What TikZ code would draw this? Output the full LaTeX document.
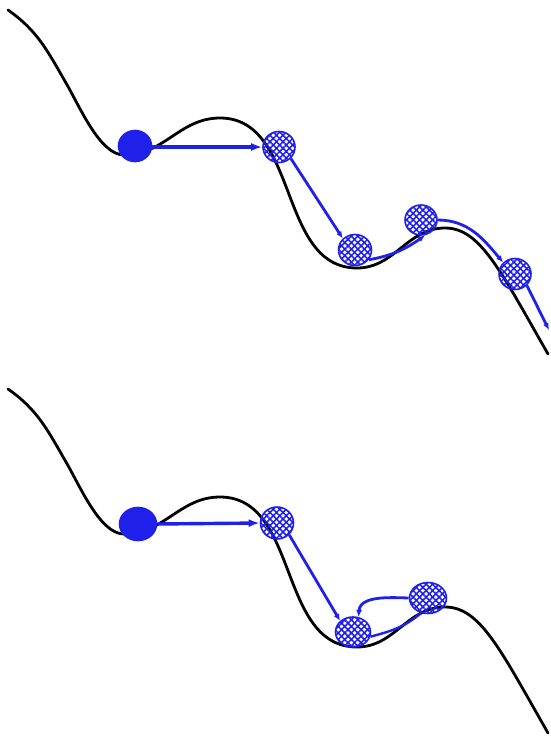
\documentclass[tikz,border=0pt]{standalone}
\usetikzlibrary{shapes.geometric,arrows.meta,patterns.meta}
\definecolor{myblue}{RGB}{32,32,235}
\tikzset{
  curve/.style={black,line width=2.8pt,line cap=round},
  ball/.style={ellipse,inner sep=0pt,draw=myblue,line width=1.6pt},
  fball/.style={ball,fill=myblue},
  hball/.style={ball,
    pattern={Lines[angle=45,distance=4.6pt,line width=1.6pt]},pattern color=myblue,
    postaction={pattern={Lines[angle=-45,distance=4.6pt,line width=1.6pt]},pattern color=myblue}},
  barrow/.style={myblue,line width=3.4pt,-{Latex[length=11pt,width=8pt]}},
  sarrow/.style={myblue,line width=2.8pt,-{Latex[length=7pt,width=6pt]}},
  sline/.style={myblue,line width=2.4pt},
}
\newcommand{\landscape}{%
  \draw[curve] (8,10) to[out=-35,in=120] (66,83) .. controls (80,107) and (100,155) .. (124,155)
    to[out=0,in=180] (220,118) to[out=0,in=180] (357,268) to[out=0,in=180] (445,228)
    .. controls (480,228) and (500,270) .. (548,354);}
\begin{document}
\begin{tikzpicture}[x=1pt,y=-1pt]
\useasboundingbox (0,0) rectangle (551,737);
% ---------- top panel ----------
\landscape
\node[fball,minimum width=33pt,minimum height=31pt] (a1) at (135,146) {};
\node[hball,minimum width=32pt,minimum height=31pt] (a2) at (279,147) {};
\node[hball,minimum width=33pt,minimum height=31pt] (a3) at (355,250) {};
\node[hball,minimum width=32pt,minimum height=30pt] (a4) at (421,220) {};
\node[hball,minimum width=32pt,minimum height=31pt] (a5) at (515,274) {};
\coordinate (aend) at (549,330);
\draw[barrow] (a1.east |- 0,147) -- (a2.west);
\draw[sarrow] (a2.south east) -- (a3.north west);
\draw[sarrow] (a3.-35) to[out=10,in=-145] (a4.-75);
\draw[sarrow] (a4.east) to[out=0,in=130] (a5.north west);
\draw[sarrow] (a5.south east) -- (aend);
% ---------- bottom panel ----------
\begin{scope}[yshift=-379pt]
\landscape
\end{scope}
\node[fball,minimum width=37pt,minimum height=33pt] (b1) at (138,524) {};
\node[hball,minimum width=33pt,minimum height=32pt] (b2) at (277,523) {};
\node[hball,minimum width=35pt,minimum height=30pt] (b3) at (353,632) {};
\node[hball,minimum width=37pt,minimum height=31pt] (b4) at (428,598) {};
\draw[barrow] (b1.east |- 0,524) -- (b2.west);
\draw[sarrow] (b2.south east) -- (b3.north west);
\draw[sarrow] (b4.west) to[out=178,in=85] (b3.70);
\draw[sline] (b3.-15) to[out=15,in=-140] (b4.-115);
\end{tikzpicture}
\end{document}
